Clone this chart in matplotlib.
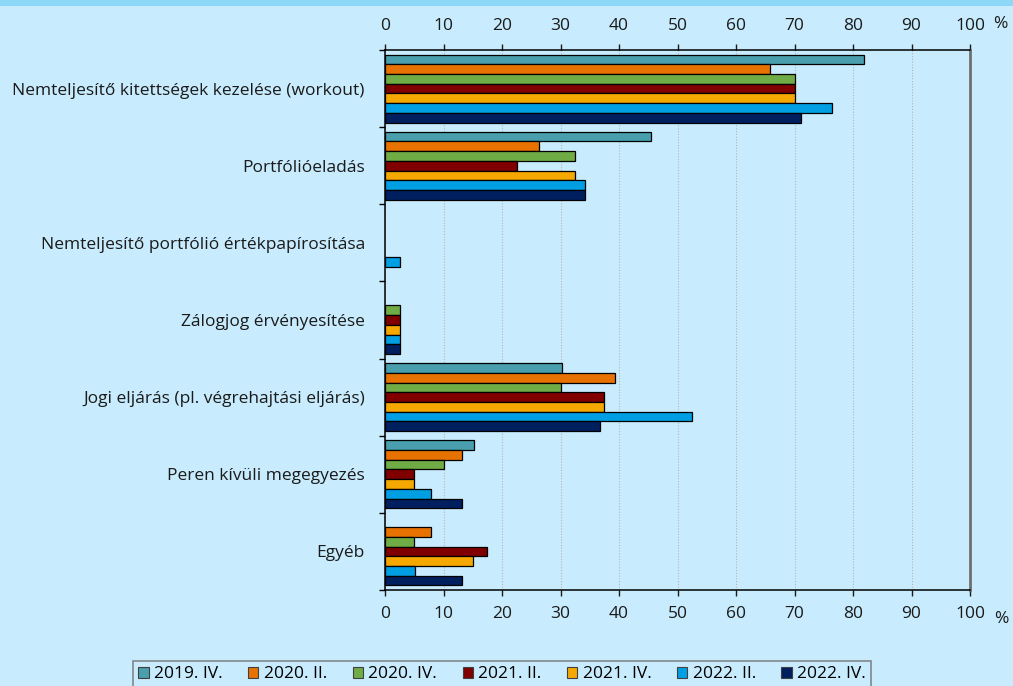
import numpy as np
import matplotlib
matplotlib.use("Agg")
import matplotlib.pyplot as plt
from matplotlib.patches import Patch

# categories, top to bottom
categories = [
    "Nemteljesítő kitettségek kezelése (workout)",
    "Portfólióeladás",
    "Nemteljesítő portfólió értékpapírosítása",
    "Zálogjog érvényesítése",
    "Jogi eljárás (pl. végrehajtási eljárás)",
    "Peren kívüli megegyezés",
    "Egyéb",
]
series_names = ["2019. IV.", "2020. II.", "2020. IV.", "2021. II.",
                "2021. IV.", "2022. II.", "2022. IV."]

# values in % per series (same order as categories)
v_2019_iv = [81.9, 45.4, 0.0, 0.0, 30.3, 15.2, 0.0]
v_2020_ii = [65.8, 26.3, 0.0, 0.0, 39.4, 13.1, 7.9]
v_2020_iv = [70.0, 32.5, 0.0, 2.5, 30.0, 10.0, 5.0]
v_2021_ii = [70.0, 22.5, 0.0, 2.5, 37.5, 5.0, 17.5]
v_2021_iv = [70.0, 32.5, 0.0, 2.5, 37.5, 5.0, 15.0]
v_2022_ii = [76.4, 34.2, 2.6, 2.6, 52.5, 7.9, 5.2]
v_2022_iv = [71.1, 34.2, 0.0, 2.6, 36.8, 13.2, 13.2]
series = [v_2019_iv, v_2020_ii, v_2020_iv, v_2021_ii, v_2021_iv, v_2022_ii, v_2022_iv]

colors = ["#4a9fae", "#e87200", "#6fac46", "#800000",
          "#f5a800", "#009fe3", "#001f5f"]
xticks = list(range(0, 101, 10))

BG = "#c8ecfd"
W, H = 1013, 686
plt.rcParams['font.family'] = ['Open Sans', 'DejaVu Sans']
plt.rcParams['font.size'] = 12

fig = plt.figure(figsize=(W / 100, H / 100), dpi=100, facecolor=BG)
# top band
fig.patches.append(plt.Rectangle((0, 1 - 6 / H), 1, 6 / H, transform=fig.transFigure,
                                 facecolor="#8dd8f8", edgecolor="none"))

ax = fig.add_axes([385 / W, 1 - 590 / H, (970 - 385) / W, (590 - 50) / H])
ax.set_facecolor(BG)

n = len(series)
h = 0.126
y = np.arange(len(categories))
for k, (vals, c) in enumerate(zip(series, colors)):
    vals = np.array(vals)
    off = (k - (n - 1) / 2) * h
    keep = vals > 0
    ax.barh(y[keep] + off, vals[keep], height=h, color=c,
            edgecolor="black", linewidth=0.9, zorder=3)

ax.set_xlim(0, 100)
ax.set_ylim(len(categories) - 0.5, -0.5)
ax.set_xticks(xticks)
ax.grid(axis="x", color="#b4b4b4", linestyle=(0, (1, 1.5)), linewidth=0.8, zorder=0)

ax.set_yticks(y)
ax.set_yticklabels(categories)
ax.set_yticks(np.arange(len(categories) + 1) - 0.5, minor=True)
ax.tick_params(axis="y", which="major", length=0, pad=14.5, labelsize=12.5, colors="#1a1a1a")
ax.tick_params(axis="y", which="minor", length=4.3, width=1.0, color="black")
ax.tick_params(axis="x", which="major", top=True, labeltop=True, bottom=True, labelbottom=True,
               length=4.3, width=1.0, pad=7, labelsize=12.5, colors="#1a1a1a")

for side in ["top", "bottom", "left"]:
    ax.spines[side].set_color("black")
    ax.spines[side].set_linewidth(1.1)
ax.spines["right"].set_color("#6f6f6f")
ax.spines["right"].set_linewidth(2.0)

fig.text(1000 / W, 1 - 24 / H, "%", ha="center", va="center", fontsize=12.5, color="#1a1a1a")
fig.text(1001 / W, 1 - 619 / H, "%", ha="center", va="center", fontsize=12.5, color="#1a1a1a")

handles = [Patch(facecolor=c, edgecolor="#404040", linewidth=0.8, label=s)
           for s, c in zip(series_names, colors)]
leg = fig.legend(handles=handles, loc="upper left", ncol=7, mode="expand",
                 bbox_to_anchor=(133 / W, 1 - 661 / H, (871 - 133) / W, 0.0),
                 frameon=True, fancybox=False, fontsize=12.5, handlelength=0.6,
                 handleheight=0.6, handletextpad=0.3, columnspacing=0.8,
                 borderpad=0.3, borderaxespad=0)
leg.get_frame().set_facecolor(BG)
leg.get_frame().set_edgecolor("#6f6f6f")
leg.get_frame().set_linewidth(1.2)

fig.savefig("out.png", dpi=100, facecolor=BG)
